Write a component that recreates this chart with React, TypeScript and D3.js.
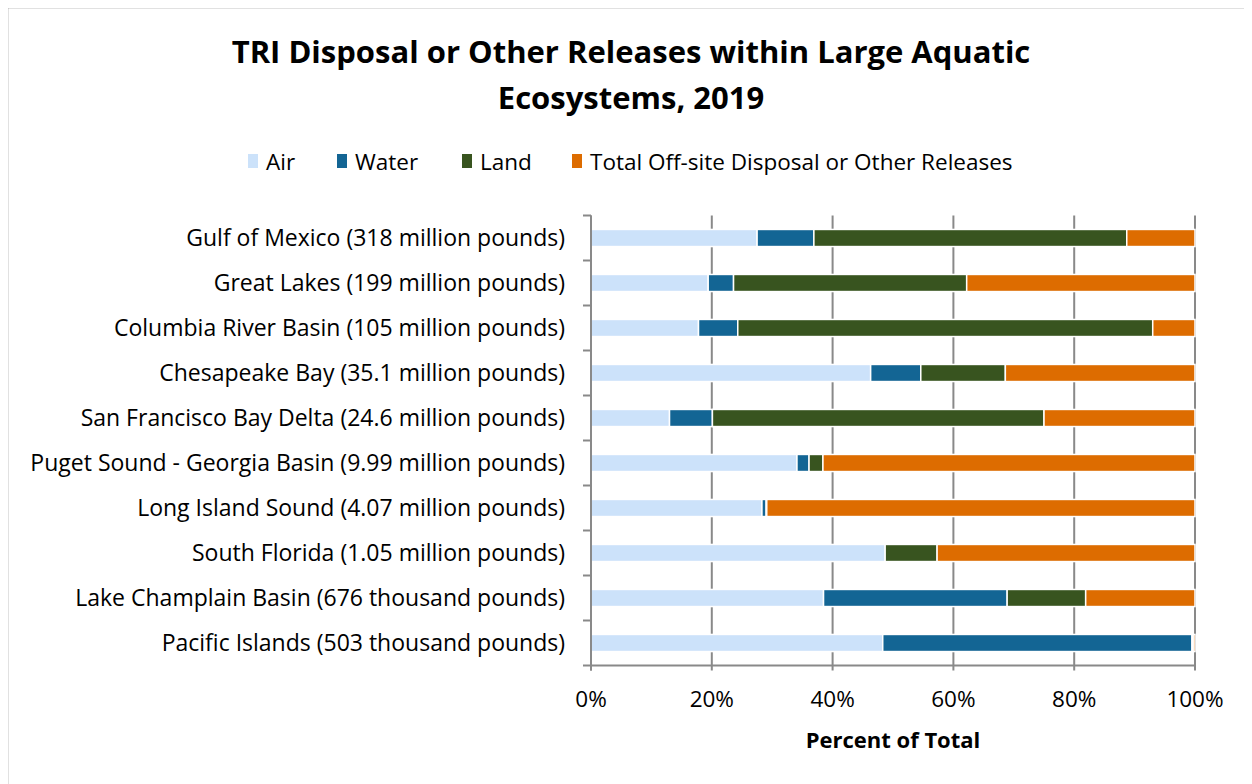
import React from "react";
import * as d3 from "d3";

const categories = [
  "Gulf of Mexico (318 million pounds)",
  "Great Lakes (199 million pounds)",
  "Columbia River Basin (105 million pounds)",
  "Chesapeake Bay (35.1 million pounds)",
  "San Francisco Bay Delta (24.6 million pounds)",
  "Puget Sound - Georgia Basin (9.99 million pounds)",
  "Long Island Sound (4.07 million pounds)",
  "South Florida (1.05 million pounds)",
  "Lake Champlain Basin (676 thousand pounds)",
  "Pacific Islands (503 thousand pounds)",
];
const seriesNames = ["Air", "Water", "Land", "Total Off-site Disposal or Other Releases"];
const air = [27.5, 19.4, 17.8, 46.3, 13.0, 34.1, 28.3, 48.7, 38.5, 48.3];
const water = [9.4, 4.2, 6.5, 8.3, 7.1, 2.0, 0.7, 0.0, 30.4, 51.2];
const land = [51.8, 38.6, 68.7, 14.0, 54.9, 2.3, 0.1, 8.6, 13.0, 0.2];
const offsite = [11.3, 37.8, 7.0, 31.4, 25.0, 61.6, 70.9, 42.7, 18.1, 0.3];
const xTicks = [0, 20, 40, 60, 80, 100];
const colors = ["#CCE2FA", "#136594", "#38541F", "#DD6C00"];

const FONT = "'Open Sans', Lato, sans-serif";

export default function App() {
  const W = 1244;
  const H = 776;
  const ox = -8, oy = -8;
  const left = 591 + ox;
  const right = 1195 + ox;
  const top = 215.5 + oy;
  const bottom = 665.5 + oy;

  const totals = categories.map((_, i) => air[i] + water[i] + land[i] + offsite[i]);
  const data = categories.map((c, i) => ({
    cat: c,
    s0: air[i] / totals[i] * 100,
    s1: water[i] / totals[i] * 100,
    s2: land[i] / totals[i] * 100,
    s3: offsite[i] / totals[i] * 100,
  }));
  const stack = d3.stack<any>().keys(["s0", "s1", "s2", "s3"])(data);

  const x = d3.scaleLinear().domain([0, 100]).range([left, right]);
  const y = d3.scaleBand().domain(categories).range([top, bottom]).paddingInner(0.62).paddingOuter(0.31);
  const yBand = d3.scaleBand().domain(categories).range([top, bottom]);

  const legendItems = [
    { x: 248, tx: 266 },
    { x: 337, tx: 355 },
    { x: 462, tx: 480 },
    { x: 572, tx: 590 },
  ];

  return (
    <svg width={W} height={H} style={{ display: "block" }} fontFamily={FONT}>
      <rect x={-0.5} y={-0.5} width={W + 10} height={H + 10} fill="white" stroke="#898989" strokeWidth={1.5} />
      <text x={631 + ox} y={63 + oy} textAnchor="middle" fontSize={31} fontWeight="bold" fill="#000">
        TRI Disposal or Other Releases within Large Aquatic
      </text>
      <text x={631 + ox} y={109 + oy} textAnchor="middle" fontSize={31} fontWeight="bold" fill="#000">
        Ecosystems, 2019
      </text>
      {seriesNames.map((s, i) => (
        <g key={s}>
          <rect x={legendItems[i].x + ox} y={154 + oy} width={10} height={14} fill={colors[i]} />
          <text x={legendItems[i].tx + ox} y={169.5 + oy} fontSize={22.5} fill="#000">{s}</text>
        </g>
      ))}
      {xTicks.map((t) => (
        <line key={t} x1={x(t)} x2={x(t)} y1={top} y2={bottom + 5} stroke="#898989" strokeWidth={2} />
      ))}
      {stack.map((layer, li) => (
        <g key={li} fill={colors[li]}>
          {layer.map((d, i) => (
            <rect key={i} x={x(d[0])} y={y(categories[i])!} width={Math.max(0, x(d[1]) - x(d[0]))} height={y.bandwidth()} stroke="#fff" strokeWidth={1.5} />
          ))}
        </g>
      ))}
      <line x1={left} x2={left} y1={top} y2={bottom + 5} stroke="#898989" strokeWidth={2} />
      <line x1={left - 8} x2={right} y1={bottom} y2={bottom} stroke="#898989" strokeWidth={2} />
      {categories.map((c) => (
        <line key={c} x1={left - 8} x2={left} y1={yBand(c)!} y2={yBand(c)!} stroke="#898989" strokeWidth={2} />
      ))}
      {categories.map((c) => (
        <text key={c} x={565 + ox} y={y(c)! + y.bandwidth() / 2 + 8} textAnchor="end" fontSize={23} fill="#000">{c}</text>
      ))}
      {xTicks.map((t) => (
        <text key={t} x={x(t)} y={707 + oy} textAnchor="middle" fontSize={22.5} fill="#000">{t}%</text>
      ))}
      <text x={893 + ox} y={748 + oy} textAnchor="middle" fontSize={22} fontWeight="bold" fill="#000">Percent of Total</text>
    </svg>
  );
}
